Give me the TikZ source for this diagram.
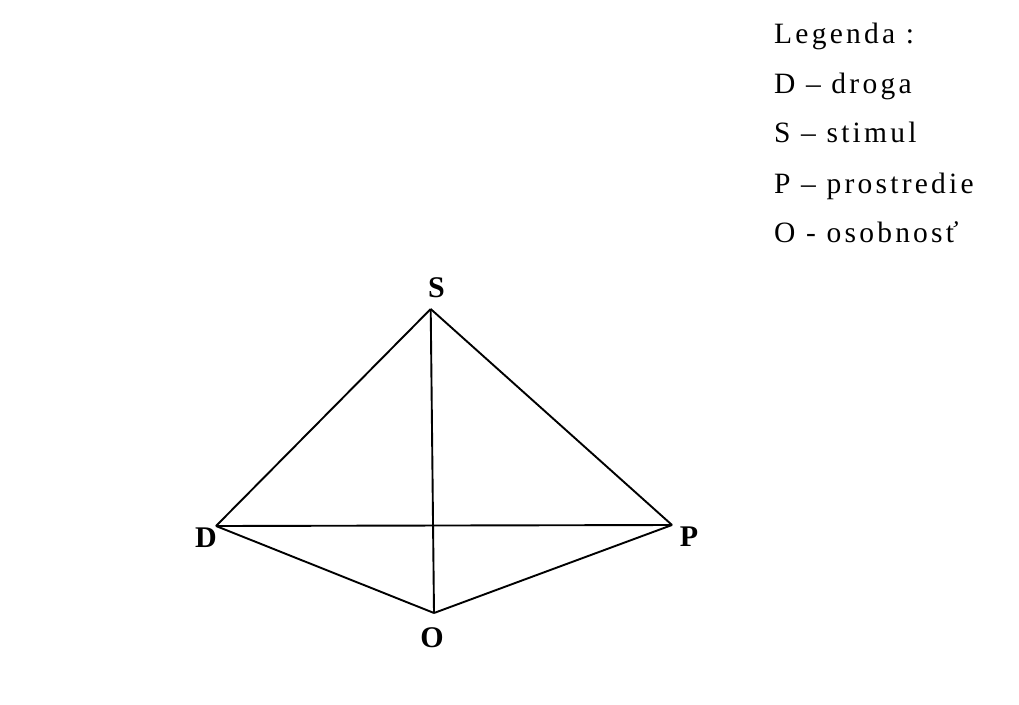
\documentclass[tikz,border=0pt]{standalone}
\usepackage{fontspec}
\setmainfont{Liberation Serif}
\newfontfamily\legfont[LetterSpace=11]{Liberation Serif}
\begin{document}
\begin{tikzpicture}[x=1pt,y=-1pt,
  edge/.style={line width=1.9pt, line join=miter},
  vlabel/.style={font=\fontsize{30}{30}\selectfont\bfseries, inner sep=0pt},
  legtext/.style={font=\fontsize{29.5}{30}\legfont, inner sep=0pt, anchor=base west}]
\fill[white] (0,0) rectangle (1019,704);
\useasboundingbox (0,0) rectangle (1019,704);
% vertices
\coordinate (vS) at (430.7,309);
\coordinate (vD) at (216,526);
\coordinate (vP) at (672,525);
\coordinate (vO) at (434,613);
% edges
\draw[edge] (vS) -- (vD);
\draw[edge] (vS) -- (vP);
\draw[edge] (vS) -- (vO);
\draw[edge] (vD) -- (vP);
\draw[edge] (vD) -- (vO);
\draw[edge] (vO) -- (vP);
% vertex labels
\node[vlabel] (lS) at (436.5,287.5) {S};
\node[vlabel] (lD) at (206,537.5) {D};
\node[vlabel] (lP) at (689,537) {P};
\node[vlabel] (lO) at (432,638) {O};
% legend
\node[legtext] (leg0) at (774,43) {Legenda :};
\node[legtext] (leg1) at (774,93) {D – droga};
\node[legtext] (leg2) at (774,142) {S – stimul};
\node[legtext] (leg3) at (774,193) {P – prostredie};
\node[legtext] (leg4) at (774,242) {O - osobnosť};
\end{tikzpicture}
\end{document}
